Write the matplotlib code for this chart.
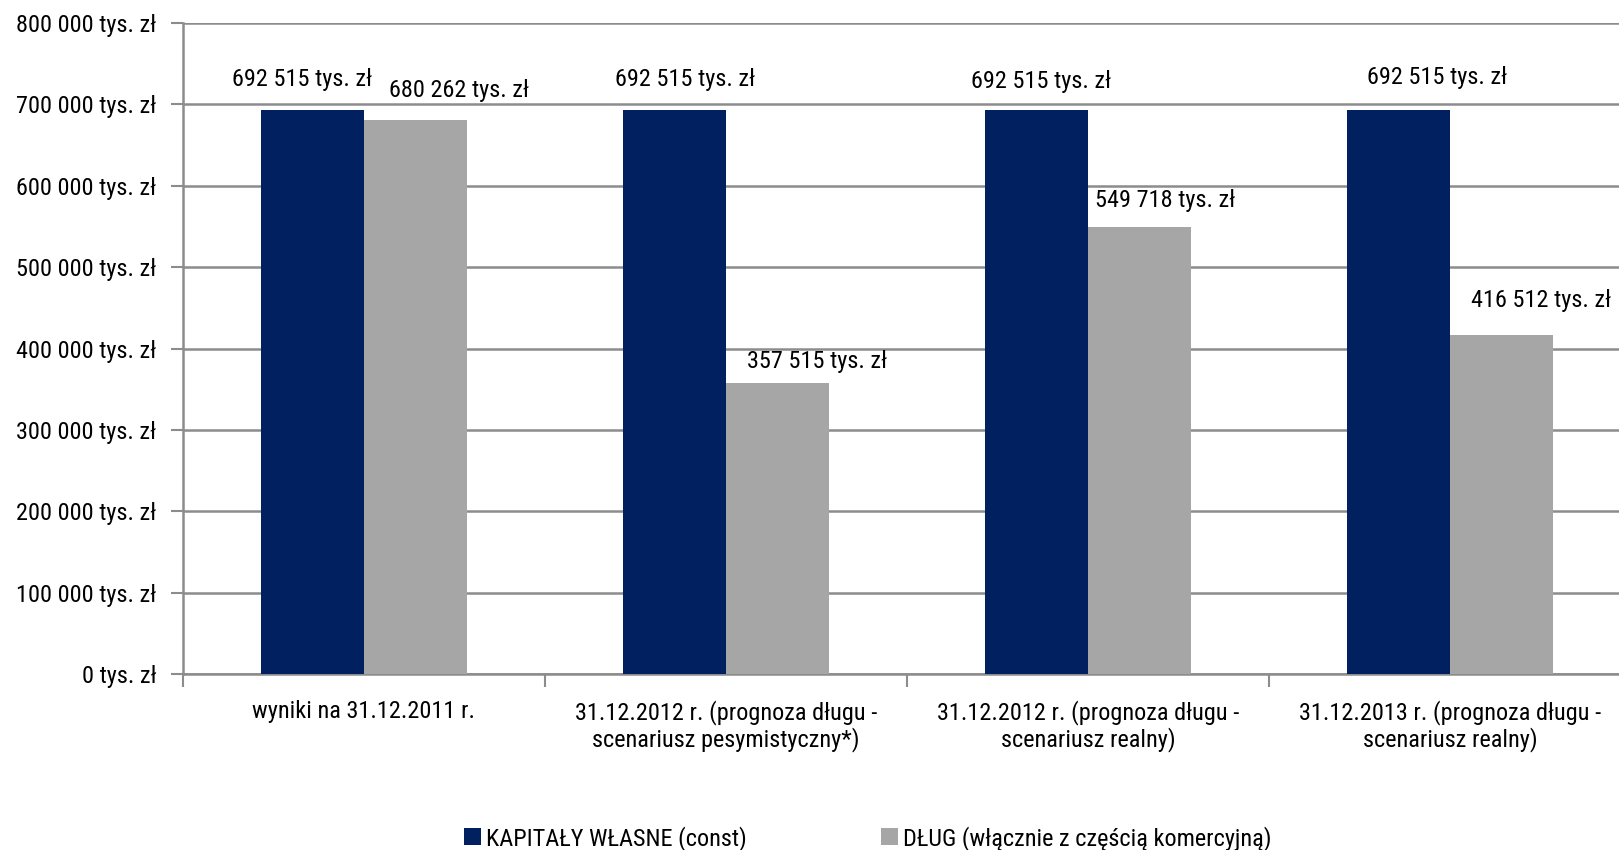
import matplotlib.pyplot as plt
import numpy as np

plt.rcParams['font.family'] = ['Roboto Condensed', 'Liberation Sans', 'DejaVu Sans']

categories = ['wyniki na 31.12.2011 r.',
              '31.12.2012 r. (prognoza długu -\nscenariusz pesymistyczny*)',
              '31.12.2012 r. (prognoza długu -\nscenariusz realny)',
              '31.12.2013 r. (prognoza długu -\nscenariusz realny)']
kapitaly = [692515, 692515, 692515, 692515]
dlug = [680262, 357515, 549718, 416512]
series_names = ['KAPITAŁY WŁASNE (const)', 'DŁUG (włącznie z częścią komercyjną)']

# label nudges in pixels (dx, dy above bar top)
kap_off = [(-10, 31), (11, 31), (4, 29), (38, 33)]
dlug_off = [(43, 30), (39, 22), (25, 26), (39, 35)]

def fmt(v):
    return '{:,}'.format(v).replace(',', ' ') + ' tys. zł'

fs = 17.5

fig = plt.figure(figsize=(16.19, 8.5), dpi=100)
ax = fig.add_axes([0.113, 0.207, 0.8946, 0.766])

x = np.arange(len(categories))
w = 0.285
b1 = ax.bar(x - w / 2, kapitaly, w, color='#002060', label=series_names[0], zorder=3)
b2 = ax.bar(x + w / 2, dlug, w, color='#A6A6A6', label=series_names[1], zorder=3)

for i in range(len(x)):
    ax.annotate(fmt(kapitaly[i]), (x[i] - w / 2, kapitaly[i]), xytext=kap_off[i],
                textcoords='offset pixels', ha='center', va='center', fontsize=fs)
    ax.annotate(fmt(dlug[i]), (x[i] + w / 2, dlug[i]), xytext=dlug_off[i],
                textcoords='offset pixels', ha='center', va='center', fontsize=fs)

ax.set_xlim(-0.5, 3.5)
ax.set_ylim(0, 800000)
yt = np.arange(0, 800001, 100000)
ax.set_yticks(yt)
ax.set_yticklabels([fmt(v) for v in yt], fontsize=fs)
ax.yaxis.grid(True, color='#8c8c8c', linewidth=1.8, zorder=0)

ax.set_xticks(np.arange(-0.5, 3.6, 1))
ax.set_xticklabels([])
ax.set_xticks(x, minor=True)
ax.set_xticklabels(categories, minor=True, fontsize=fs, linespacing=1.1)
ax.tick_params(axis='x', which='minor', length=0, pad=19)
ax.tick_params(axis='x', which='major', length=9, width=1.5, color='#8c8c8c')
ax.tick_params(axis='y', length=9, width=1.5, color='#8c8c8c', pad=10)

for s in ['top', 'right']:
    ax.spines[s].set_visible(False)
for s in ['left', 'bottom']:
    ax.spines[s].set_color('#8c8c8c')
    ax.spines[s].set_linewidth(1.8)

fig.legend(handles=[b1, b2], loc='center', bbox_to_anchor=(0.536, 0.014), ncol=2,
           frameon=False, fontsize=fs, handlelength=0.7, handleheight=0.7,
           handletextpad=0.2, columnspacing=5.5)

fig.savefig('out.png', dpi=100)
